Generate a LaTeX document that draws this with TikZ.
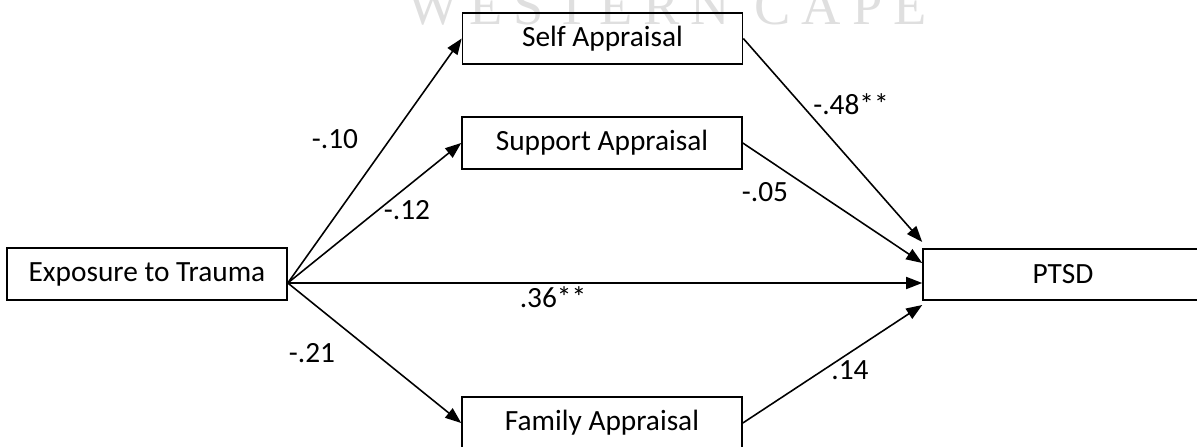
\documentclass[tikz,border=0pt]{standalone}
\usepackage{fontspec}
\setmainfont{Carlito}
\newfontfamily\wmfont[LetterSpace=20]{Liberation Serif}
\usepackage{tikz}
\usetikzlibrary{positioning}
\usetikzlibrary{arrows.meta}

\begin{document}
\begin{tikzpicture}[font=\fontsize{16.7}{20}\selectfont,
    box/.style={draw, line width=0.9pt, minimum width=5.6cm, minimum height=1.03cm, inner sep=0pt},
    arr/.style={line width=0.9pt, -{Triangle[length=0.32cm,width=0.24cm]}},
    coef/.style={inner sep=0pt}]
    \useasboundingbox (0,0) rectangle (23.94,8.92);
    % watermark at the top edge
    \node[text=gray!25, font=\wmfont\fontsize{31}{31}\selectfont, anchor=base] (wm) at (13.34,8.42) {WESTERN CAPE};
    \node[box] (expo) at (2.94,3.44) {Exposure to Trauma};
    \node[box] (self) at (12.05,8.15) {Self Appraisal};
    \node[box] (supp) at (12.04,6.06) {Support Appraisal};
    \node[box] (fam) at (12.04,0.46) {Family Appraisal};
    \node[box] (ptsd) at (21.26,3.43) {PTSD};
    \coordinate (src) at ([yshift=-0.18cm]expo.east);
    % paths
    \draw[arr] (src) -- (self.west);
    \draw[arr] (src) -- (supp.west);
    \draw[arr] (src) -- ([yshift=-0.17cm]ptsd.west);
    \draw[arr] (src) -- (fam.west);
    \draw[arr] (self.east) -- ([yshift=0.65cm]ptsd.west);
    \draw[arr] (supp.east) -- ([yshift=0.23cm]ptsd.west);
    \draw[arr] (fam.east) -- ([yshift=-0.61cm]ptsd.west);
    % coefficients
    \node[coef] (c1) at (6.70,6.14) {-.10};
    \node[coef] (c2) at (8.14,4.72) {-.12};
    \node[coef] (c3) at (11.06,2.98) {.36**};
    \node[coef] (c4) at (6.24,1.86) {-.21};
    \node[coef] (c5) at (17.02,6.84) {-.48**};
    \node[coef] (c6) at (15.30,5.08) {-.05};
    \node[coef] (c7) at (17.00,1.52) {.14};
\end{tikzpicture}
\end{document}
